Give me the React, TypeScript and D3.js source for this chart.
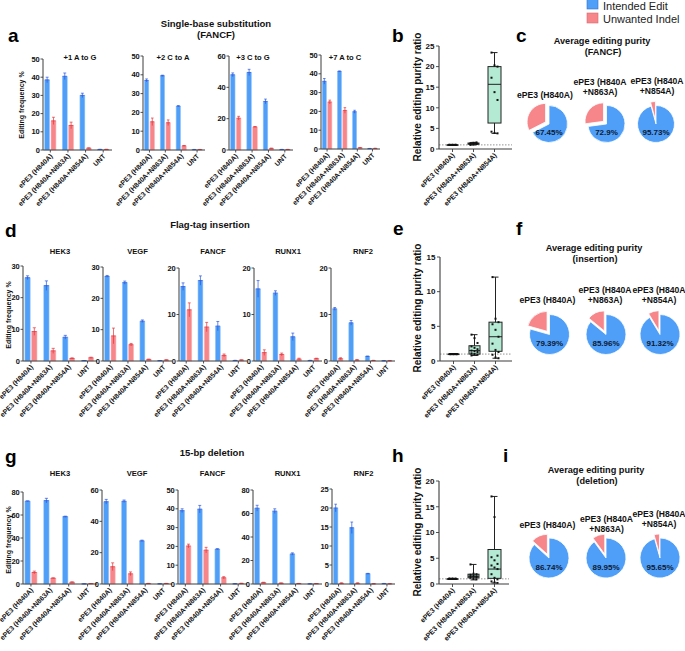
import React from "react";
import * as d3 from "d3";

// ---------- shared categories ----------
const groups = ["ePE3 (H840A)", "ePE3 (H840A+N863A)", "ePE3 (H840A+N854A)", "UNT"];
const boxGroups = ["ePE3 (H840A)", "ePE3 (H840A+N863A)", "ePE3 (H840A+N854A)"];
const legendLabels = ["Intended Edit", "Unwanted Indel"];

// ---------- panel a : single-base substitution (FANCF) ----------
const aTitles = ["+1 A to G", "+2 C to A", "+3 C to G", "+7 A to C"];
const aMax = [50, 50, 60, 50];
const aStep = [10, 10, 20, 10];
const aIntended = [[38.5, 40.5, 30, 0.3], [37, 39.5, 23.3, 0.2], [48, 49.5, 31, 0.3], [36, 41.3, 19.8, 0.2]];
const aIntendedErr = [[1.5, 1.8, 1.2, 0.1], [0.8, 0.3, 0.3, 0.1], [1.2, 2, 1.5, 0.1], [1.5, 0.2, 0.8, 0.1]];
const aIndel = [[16, 13.5, 1, 0.3], [15, 14.5, 2.2, 0.2], [20.3, 14.7, 1, 0.3], [25, 20.5, 0.7, 0.3]];
const aIndelErr = [[2, 1.8, 0.2, 0.1], [2, 1.5, 0.2, 0.1], [1.2, 0.3, 0.2, 0.1], [1, 1.5, 0.1, 0.1]];

// ---------- panel d : flag-tag insertion ----------
const dTitles = ["HEK3", "VEGF", "FANCF", "RUNX1", "RNF2"];
const dMax = [30, 30, 20, 20, 20];
const dStep = [10, 10, 10, 10, 10];
const dIntended = [[26.3, 23.8, 7.5, 0.1], [27, 25, 12.7, 0.1], [16, 17.3, 7.5, 0.1], [15.5, 14.6, 5.2, 0.1], [11.2, 8.2, 1, 0.05]];
const dIntendedErr = [[0.6, 1.5, 0.6, 0.05], [0.3, 0.5, 0.4, 0.05], [0.8, 1, 1, 0.05], [1.8, 0.5, 0.8, 0.05], [0.3, 0.5, 0.05, 0.02]];
const dIndel = [[9.3, 3.2, 0.8, 1.0], [8, 5.2, 0.5, 0.3], [11, 7.3, 1.2, 0.2], [1.8, 1.4, 0.4, 0.5], [0.5, 0.2, 0.1, 0.05]];
const dIndelErr = [[1.2, 0.8, 0.2, 0.2], [2.5, 0.4, 0.1, 0.1], [1.5, 1, 0.3, 0.05], [0.6, 0.3, 0.2, 0.1], [0.2, 0.1, 0.05, 0.02]];

// ---------- panel g : 15-bp deletion ----------
const gTitles = ["HEK3", "VEGF", "FANCF", "RUNX1", "RNF2"];
const gMax = [80, 60, 50, 80, 25];
const gStep = [20, 20, 10, 20, 5];
const gIntended = [[72, 72.5, 58.5, 0.1], [52.5, 52.8, 27.5, 0.1], [39, 39.8, 18.5, 0.1], [64.5, 62, 25.5, 0.1], [20, 14.8, 2.7, 0.1]];
const gIntendedErr = [[0.3, 2, 0.5, 0.1], [1.5, 0.8, 0.5, 0.1], [1, 2, 0.3, 0.1], [2.5, 2, 1, 0.1], [1, 1.5, 0.1, 0.05]];
const gIndel = [[10, 5, 1.5, 0.3], [11, 6.5, 0.3, 0.3], [20.2, 18, 3.3, 0.3], [1.2, 0.7, 0.4, 0.3], [0.2, 0.2, 0.05, 0.05]];
const gIndelErr = [[1.2, 0.4, 0.4, 0.1], [2.5, 1.2, 0.1, 0.1], [1, 1.5, 0.6, 0.1], [0.3, 0.2, 0.1, 0.1], [0.1, 0.1, 0.02, 0.02]];

// ---------- box plots: [min, q1, median, q3, max] ----------
const bStats = [[1, 1, 1, 1, 1], [1.0, 1.15, 1.3, 1.45, 1.6], [3.8, 6.3, 15.7, 20.0, 23.4]];
const bPoints = [[1, 1, 1, 1, 1, 1, 1, 1, 1], [1.0, 1.1, 1.2, 1.25, 1.3, 1.35, 1.4, 1.5, 1.6], [23.4, 20.3, 20.0, 17.3, 13.8, 11.9, 4.2, 3.9, 3.8]];
const eStats = [[1, 1, 1, 1, 1], [0.8, 1.0, 1.5, 2.2, 3.8], [0.4, 1.4, 3.5, 5.6, 12.1]];
const ePoints = [[1, 1, 1, 1, 1, 1, 1, 1, 1, 1, 1, 1], [3.8, 3.3, 2.6, 2.1, 1.9, 1.7, 1.5, 1.4, 1.3, 1.1, 1.0, 0.9, 0.8], [12.1, 6.1, 5.6, 5.3, 4.5, 3.5, 2.5, 1.6, 1.3, 0.9, 0.5, 0.4]];
const hStats = [[1, 1, 1, 1, 1], [0.8, 1.2, 1.5, 1.9, 3.8], [0.2, 1.1, 2.9, 6.7, 17.0]];
const hPoints = [[1, 1, 1, 1, 1, 1, 1, 1, 1, 1, 1, 1, 1, 1], [3.8, 2.0, 1.9, 1.8, 1.6, 1.5, 1.5, 1.4, 1.3, 1.2, 1.0, 0.9], [17, 13, 5.5, 5.2, 4.6, 3.9, 3.6, 3.2, 2.9, 1.9, 1.2, 0.9, 0.5, 0.3, 0.2]];

// ---------- pies: intended-edit purity % ----------
const cPurity = [67.45, 72.9, 95.73];
const fPurity = [79.39, 85.96, 91.32];
const iPurity = [86.74, 89.95, 95.65];
const pieLabelsLines = [["ePE3 (H840A)"], ["ePE3 (H840A", "+N863A)"], ["ePE3 (H840A", "+N854A)"]];

// ---------- styles ----------
const FONT = "'Liberation Sans', Arial, Helvetica, sans-serif";
const BLUE = "#4f9ef7";
const RED = "#f7868b";
const BLUE_DARK = "#2a57e0";
const RED_DARK = "#e5333b";
const AXIS = "#3c3c3c";
const MINT = "#b4ead4";
const TXT = "#111";

type BarProps = {
  x0: number; x1: number; top: number; bot: number; max: number; step: number;
  title: string; tx: number; ty: number;
  blue: number[]; red: number[]; blueErr: number[]; redErr: number[];
};

function BarPlot(p: BarProps) {
  const x = d3.scaleBand<string>().domain(groups).range([p.x0 - 1.5, p.x1]).padding(0);
  const y = d3.scaleLinear().domain([0, p.max]).range([p.bot, p.top]);
  const bw = x.bandwidth();
  const barW = bw * 0.28;
  const gap = bw * 0.08;
  const ticks = d3.range(0, p.max + p.step / 2, p.step);
  return (
    <g>
      <text x={p.tx} y={p.ty} textAnchor="middle" fontSize={7.6} fontWeight="bold" fill={TXT}>{p.title}</text>
      {groups.map((g, i) => {
        const c = (x(g) as number) + bw / 2;
        const bars = [
          { v: p.blue[i], e: p.blueErr[i], bx: c - gap / 2 - barW, fill: BLUE, dark: BLUE_DARK, edge: "#9cc8fb" },
          { v: p.red[i], e: p.redErr[i], bx: c + gap / 2, fill: RED, dark: RED_DARK, edge: "#fbb7ba" },
        ];
        return (
          <g key={g}>
            {bars.map((b, j) => {
              const cx = b.bx + barW / 2;
              const yt = y(b.v + b.e);
              const yb = y(Math.max(0, b.v - b.e));
              return (
                <g key={j}>
                  <rect x={b.bx} y={y(b.v)} width={barW} height={p.bot - y(b.v)} fill={b.fill} stroke={b.edge} strokeWidth={0.6} />
                  <line x1={cx} x2={cx} y1={yt} y2={yb} stroke={b.dark} strokeWidth={0.7} />
                  <line x1={cx - barW * 0.3} x2={cx + barW * 0.3} y1={yt} y2={yt} stroke={b.dark} strokeWidth={0.7} />
                  <line x1={b.bx + 0.3} x2={b.bx + barW - 0.3} y1={y(b.v)} y2={y(b.v)} stroke={b.dark} strokeWidth={0.8} />
                </g>
              );
            })}
            <line x1={c} x2={c} y1={p.bot} y2={p.bot + 2.5} stroke={AXIS} strokeWidth={0.9} />
            <text transform={`translate(${c + 1},${p.bot + 5}) rotate(-45)`} textAnchor="end" dy="0.35em" fontSize={6.9} fontWeight="bold" fill={TXT}>{g}</text>
          </g>
        );
      })}
      <line x1={p.x0} x2={p.x0} y1={p.top} y2={p.bot} stroke={AXIS} strokeWidth={1} />
      <line x1={p.x0} x2={p.x1} y1={p.bot} y2={p.bot} stroke={AXIS} strokeWidth={1} />
      {ticks.map((t) => (
        <g key={t}>
          <line x1={p.x0 - 2.5} x2={p.x0} y1={y(t)} y2={y(t)} stroke={AXIS} strokeWidth={0.9} />
          <text x={p.x0 - 3.2} y={y(t)} dy="0.35em" textAnchor="end" fontSize={7.5} fontWeight="bold" fill={TXT}>{t}</text>
        </g>
      ))}
    </g>
  );
}

type BoxProps = {
  x0: number; x1: number; top: number; bot: number; max: number; step: number;
  stats: number[][]; points: number[][]; labelY: number;
};

function BoxPlot(p: BoxProps) {
  const x = d3.scaleBand<string>().domain(boxGroups).range([p.x0 + 3, p.x0 + 66]).padding(0);
  const y = d3.scaleLinear().domain([0, p.max]).range([p.bot, p.top]);
  const ticks = d3.range(0, p.max + p.step / 2, p.step);
  const bw = x.bandwidth();
  return (
    <g>
      <text transform={`translate(421,${p.labelY}) rotate(-90)`} textAnchor="middle" fontSize={10} fontWeight="bold" fill={TXT}>Relative editing purity ratio</text>
      <line x1={p.x0} x2={p.x1} y1={y(1)} y2={y(1)} stroke="#777" strokeWidth={0.8} strokeDasharray="1.5,1.5" />
      {boxGroups.map((g, i) => {
        const c = (x(g) as number) + bw / 2;
        const [mn, q1, md, q3, mx] = p.stats[i];
        const hw = i === 2 ? 6.5 : 5.5;
        return (
          <g key={g}>
            <line x1={c} x2={c} y1={y(mx)} y2={y(mn)} stroke="#222" strokeWidth={1} />
            <line x1={c - 3} x2={c + 3} y1={y(mx)} y2={y(mx)} stroke="#222" strokeWidth={1} />
            <line x1={c - 3} x2={c + 3} y1={y(mn)} y2={y(mn)} stroke="#222" strokeWidth={1} />
            <rect x={c - hw} y={y(q3)} width={hw * 2} height={Math.max(0.5, y(q1) - y(q3))} fill={i === 0 ? "none" : MINT} stroke="#222" strokeWidth={1} />
            <line x1={c - hw} x2={c + hw} y1={y(md)} y2={y(md)} stroke="#222" strokeWidth={1} />
            {p.points[i].map((v, k) => (
              <rect key={k} x={c + ((k % 3) - 1) * 3 - 1} y={y(v) - 1} width={2} height={2} fill="#111" />
            ))}
            <line x1={c} x2={c} y1={p.bot} y2={p.bot + 3} stroke={AXIS} strokeWidth={0.9} />
            <text transform={`translate(${c + 1},${p.bot + 5}) rotate(-45)`} textAnchor="end" dy="0.35em" fontSize={7} fontWeight="bold" fill={TXT}>{g}</text>
          </g>
        );
      })}
      <line x1={p.x0} x2={p.x0} y1={p.top} y2={p.bot} stroke={AXIS} strokeWidth={1.1} />
      <line x1={p.x0} x2={p.x1} y1={p.bot} y2={p.bot} stroke={AXIS} strokeWidth={1.1} />
      {ticks.map((t) => (
        <g key={t}>
          <line x1={p.x0 - 3} x2={p.x0} y1={y(t)} y2={y(t)} stroke={AXIS} strokeWidth={0.9} />
          <text x={p.x0 - 4.5} y={y(t)} dy="0.35em" textAnchor="end" fontSize={8} fontWeight="bold" fill={TXT}>{t}</text>
        </g>
      ))}
    </g>
  );
}

type PieProps = {
  values: number[]; centers: number[][]; r: number;
  labelYs: number[]; labelXs: number[]; title2: string; titleX: number; titleY: number;
};

function PieRow(p: PieProps) {
  const pie = d3.pie<number>().sort(null).value((d) => d);
  const arc = d3.arc<d3.PieArcDatum<number>>().innerRadius(0).outerRadius(p.r);
  return (
    <g>
      <text x={p.titleX} y={p.titleY} textAnchor="middle" fontSize={9.2} fontWeight="bold" fill={TXT}>Average editing purity</text>
      <text x={p.titleX + 1} y={p.titleY + 11} textAnchor="middle" fontSize={9.2} fontWeight="bold" fill={TXT}>{p.title2}</text>
      {p.values.map((v, i) => {
        const [cx, cy] = p.centers[i];
        const arcs = pie([v, 100 - v]);
        const red = arcs[1];
        const mid = (red.startAngle + red.endAngle) / 2;
        const off = 4;
        const lines = pieLabelsLines[i];
        return (
          <g key={i}>
            {lines.map((l, k) => (
              <text key={k} x={p.labelXs[i]} y={p.labelYs[i] + k * 9.5} textAnchor="middle" fontSize={8.6} fontWeight="bold" fill={TXT}>{l}</text>
            ))}
            <g transform={`translate(${cx},${cy})`}>
              <path d={arc(arcs[0]) as string} fill={BLUE} stroke="#fff" strokeWidth={0.8} />
              <path d={arc(red) as string} transform={`translate(${Math.sin(mid) * off},${-Math.cos(mid) * off})`} fill={RED} stroke="#fff" strokeWidth={0.8} />
              <text x={0} y={p.r * 0.45} dy="0.35em" textAnchor="middle" fontSize={8} fontWeight="bold" fill="#0d1a33">{`${v}%`}</text>
            </g>
          </g>
        );
      })}
    </g>
  );
}

const aLayout = [
  { x0: 43, x1: 112, top: 59, bot: 150, tx: 80 },
  { x0: 143, x1: 205, top: 56, bot: 150, tx: 173 },
  { x0: 229, x1: 293, top: 56, bot: 150, tx: 253 },
  { x0: 321, x1: 380, top: 55, bot: 149, tx: 345 },
];
const dLayout = [
  { x0: 23, x1: 97, top: 266 },
  { x0: 103, x1: 172, top: 267 },
  { x0: 179, x1: 247, top: 268 },
  { x0: 254, x1: 322, top: 268 },
  { x0: 331, x1: 395, top: 268 },
];
const gLayout = [
  { x0: 23, x1: 97, top: 492 },
  { x0: 102, x1: 172, top: 490 },
  { x0: 178, x1: 247, top: 490 },
  { x0: 253, x1: 322, top: 490 },
  { x0: 332, x1: 395, top: 489 },
];

export default function App() {
  return (
    <svg width={685} height={651} style={{ position: "absolute", left: 0, top: 0, background: "#fff" }} fontFamily={FONT}>
      <rect x={0} y={0} width={685} height={651} fill="#fff" />
      {/* legend */}
      {legendLabels.map((l, i) => (
        <g key={l}>
          <rect x={587} y={-1 + i * 14} width={11} height={10} fill={i === 0 ? BLUE : RED} stroke={i === 0 ? "#2e6fd0" : "#d86a70"} strokeWidth={0.6} />
          <text x={603} y={9.5 + i * 13} fontSize={11} fill="#222">{l}</text>
        </g>
      ))}

      {/* panel letters */}
      {[["a", 8, 42], ["b", 392, 42], ["c", 516, 42], ["d", 5, 237], ["e", 393, 235], ["f", 516, 235], ["g", 5, 463], ["h", 392, 462], ["i", 503, 462]].map(([t, x, y]) => (
        <text key={t as string} x={x as number} y={y as number} fontSize={19} fontWeight="bold" fill="#000">{t}</text>
      ))}

      {/* row 1 */}
      <text x={216} y={27} textAnchor="middle" fontSize={9.5} fontWeight="bold" fill={TXT}>Single-base substitution</text>
      <text x={216} y={38} textAnchor="middle" fontSize={9.5} fontWeight="bold" fill={TXT}>(FANCF)</text>
      <text transform="translate(24,105) rotate(-90)" textAnchor="middle" fontSize={7} fontWeight="bold" fill={TXT}>Editing frequency %</text>
      {aLayout.map((L, i) => (
        <BarPlot key={i} x0={L.x0} x1={L.x1} top={L.top} bot={L.bot} max={aMax[i]} step={aStep[i]} title={aTitles[i]} tx={L.tx} ty={60}
          blue={aIntended[i]} red={aIndel[i]} blueErr={aIntendedErr[i]} redErr={aIndelErr[i]} />
      ))}
      <BoxPlot x0={439} x1={512} top={46} bot={149} max={25} step={5} stats={bStats} points={bPoints} labelY={97} />
      <PieRow values={cPurity} centers={[[549, 124], [606.5, 124], [656, 124]]} r={18.5}
        labelXs={[545, 600, 657]} labelYs={[98, 85, 84]} title2="(FANCF)" titleX={602} titleY={44} />

      {/* row 2 */}
      <text x={210} y={228} textAnchor="middle" fontSize={9.5} fontWeight="bold" fill={TXT}>Flag-tag insertion</text>
      <text transform="translate(11,315) rotate(-90)" textAnchor="middle" fontSize={7} fontWeight="bold" fill={TXT}>Editing frequency %</text>
      {dLayout.map((L, i) => (
        <BarPlot key={i} x0={L.x0} x1={L.x1} top={L.top} bot={361} max={dMax[i]} step={dStep[i]} title={dTitles[i]} tx={(L.x0 + L.x1) / 2} ty={254}
          blue={dIntended[i]} red={dIndel[i]} blueErr={dIntendedErr[i]} redErr={dIndelErr[i]} />
      ))}
      <BoxPlot x0={440} x1={512} top={257} bot={361} max={15} step={5} stats={eStats} points={ePoints} labelY={308} />
      <PieRow values={fPurity} centers={[[549.5, 334.5], [606, 334.5], [660, 334.5]]} r={20}
        labelXs={[547.5, 605, 659]} labelYs={[303, 293, 293]} title2="(insertion)" titleX={594} titleY={251} />

      {/* row 3 */}
      <text x={212} y={456} textAnchor="middle" fontSize={9.5} fontWeight="bold" fill={TXT}>15-bp deletion</text>
      <text transform="translate(11,540) rotate(-90)" textAnchor="middle" fontSize={7} fontWeight="bold" fill={TXT}>Editing frequency %</text>
      {gLayout.map((L, i) => (
        <BarPlot key={i} x0={L.x0} x1={L.x1} top={L.top} bot={584} max={gMax[i]} step={gStep[i]} title={gTitles[i]} tx={(L.x0 + L.x1) / 2} ty={476}
          blue={gIntended[i]} red={gIndel[i]} blueErr={gIntendedErr[i]} redErr={gIndelErr[i]} />
      ))}
      <BoxPlot x0={439} x1={509} top={481} bot={584} max={20} step={5} stats={hStats} points={hPoints} labelY={532} />
      <PieRow values={iPurity} centers={[[549, 558], [606, 558], [660, 558]]} r={20}
        labelXs={[547.5, 606.5, 659]} labelYs={[528, 522, 517]} title2="(deletion)" titleX={596} titleY={473} />
    </svg>
  );
}
